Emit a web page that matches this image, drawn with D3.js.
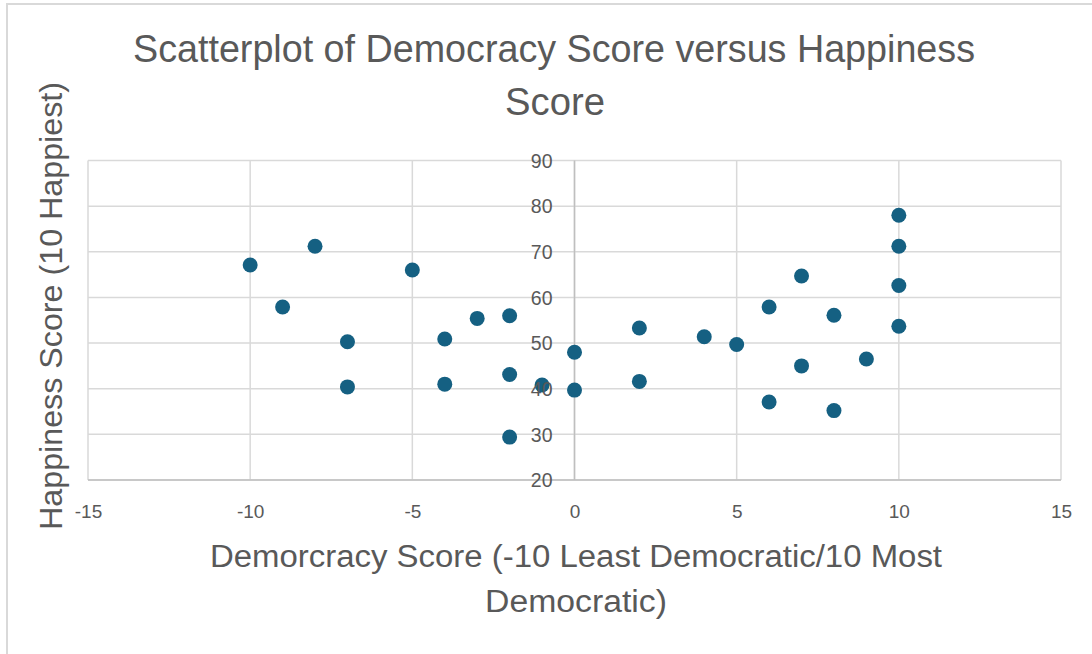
<!DOCTYPE html>
<html>
<head>
<meta charset="utf-8">
<script src="https://cdn.jsdelivr.net/npm/d3@7"></script>
<style>
  html, body { margin: 0; padding: 0; background: #fff; }
  svg { display: block; }
  text { font-family: "Liberation Sans", Arial, sans-serif; fill: #595959; }
</style>
</head>
<body>
<svg id="chart" width="1092" height="654"></svg>
<script>
// ---- data ----
const democracyScores = [-10, -9, -8, -7, -7, -5, -4, -4, -3, -2, -2, -2, -1, 0, 0, 2, 2, 4, 5, 6, 6, 7, 7, 8, 8, 9, 10, 10, 10, 10];
const happinessScores = [67.1, 57.9, 71.2, 50.3, 40.4, 66.0, 50.9, 41.0, 55.4, 56.0, 43.1, 29.4, 40.8, 48.0, 39.7, 53.3, 41.6, 51.4, 49.7, 57.9, 37.1, 64.7, 45.0, 56.1, 35.2, 46.5, 78.0, 71.2, 62.6, 53.7];
const xTicks = [-15, -10, -5, 0, 5, 10, 15];
const yTicks = [20, 30, 40, 50, 60, 70, 80, 90];
const titleLines = ["Scatterplot of Democracy Score versus Happiness", "Score"];
const xTitleLines = ["Demorcracy Score (-10 Least Democratic/10 Most", "Democratic)"];
const yTitle = "Happiness Score (10 Happiest)";

const points = democracyScores.map((d, i) => ({ x: d, y: happinessScores[i] }));

const svg = d3.select("#chart");
const plotLeft = 88, plotRight = 1061, plotTop = 160.5, plotBottom = 480;

const x = d3.scaleLinear().domain([-15, 15]).range([plotLeft, plotRight]);
const y = d3.scaleLinear().domain([20, 90]).range([plotBottom, plotTop]);

// outer chart frame
svg.append("rect")
  .attr("x", 7).attr("y", 4).attr("width", 1100).attr("height", 700)
  .attr("fill", "#fff").attr("stroke", "#d9d9d9").attr("stroke-width", 2);

// gridlines
const grid = svg.append("g");
grid.selectAll("line.h").data(yTicks).join("line").attr("class", "h")
  .attr("x1", plotLeft).attr("x2", plotRight)
  .attr("y1", d => y(d)).attr("y2", d => y(d))
  .attr("stroke", "#d9d9d9").attr("stroke-width", 1.5);
grid.selectAll("line.v").data(xTicks).join("line").attr("class", "v")
  .attr("y1", plotTop).attr("y2", plotBottom)
  .attr("x1", d => x(d)).attr("x2", d => x(d))
  .attr("stroke", "#d9d9d9").attr("stroke-width", 1.5);

// axes lines
svg.append("line").attr("x1", x(0)).attr("x2", x(0)).attr("y1", plotTop).attr("y2", plotBottom)
  .attr("stroke", "#bfbfbf").attr("stroke-width", 1.5);
svg.append("line").attr("x1", plotLeft).attr("x2", plotRight).attr("y1", y(20)).attr("y2", y(20))
  .attr("stroke", "#bfbfbf").attr("stroke-width", 1.5);

// points
svg.append("g").selectAll("circle").data(points).join("circle")
  .attr("cx", d => x(d.x)).attr("cy", d => y(d.y)).attr("r", 7.5)
  .attr("fill", "#156082");

// x axis tick labels
const xAxis = d3.axisBottom(x).tickValues(xTicks).tickSize(0).tickPadding(0)
  .tickFormat(d => String(d));
const gx = svg.append("g").attr("transform", `translate(0,${plotBottom + 38})`).call(xAxis);
gx.select(".domain").remove();
gx.selectAll(".tick text").attr("y", 0).attr("dy", 0)
  .style("font-size", "19px").attr("fill", "#595959");

// y axis tick labels, placed at x = 0
const yAxis = d3.axisLeft(y).tickValues(yTicks).tickSize(0).tickPadding(0).tickFormat(d3.format("d"));
const gy = svg.append("g").attr("transform", `translate(${x(0) - 22},0)`).call(yAxis);
gy.select(".domain").remove();
gy.selectAll(".tick text").attr("dy", "0.35em")
  .style("font-size", "19.5px").attr("fill", "#595959");

// title
svg.append("text").attr("text-anchor", "middle").style("font-size", "38px")
  .attr("x", 554).attr("y", 62).attr("textLength", 842).attr("lengthAdjust", "spacingAndGlyphs").text(titleLines[0]);
svg.append("text").attr("text-anchor", "middle").style("font-size", "38px")
  .attr("x", 555).attr("y", 115).attr("textLength", 100).attr("lengthAdjust", "spacingAndGlyphs").text(titleLines[1]);

// x title
svg.append("text").attr("text-anchor", "middle").style("font-size", "31px")
  .attr("x", 576).attr("y", 567).attr("textLength", 732).attr("lengthAdjust", "spacingAndGlyphs").text(xTitleLines[0]);
svg.append("text").attr("text-anchor", "middle").style("font-size", "31px")
  .attr("x", 576).attr("y", 612).attr("textLength", 182).attr("lengthAdjust", "spacingAndGlyphs").text(xTitleLines[1]);

// y title
svg.append("text").attr("text-anchor", "middle").style("font-size", "32px")
  .attr("transform", "translate(62,306) rotate(-90)")
  .attr("textLength", 448).attr("lengthAdjust", "spacingAndGlyphs").text(yTitle);
</script>
</body>
</html>
